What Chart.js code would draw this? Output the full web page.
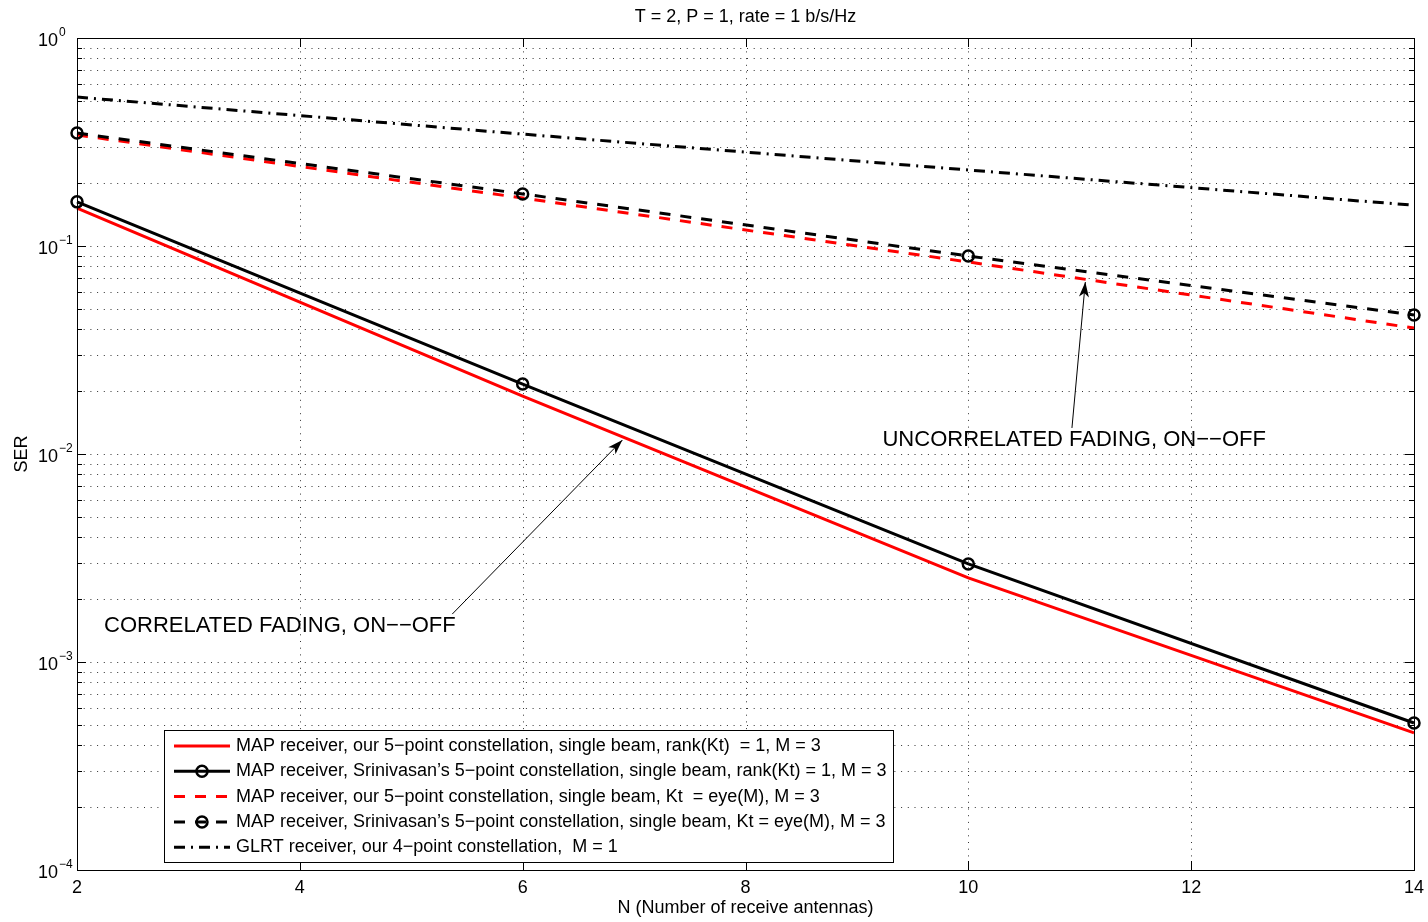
<!DOCTYPE html>
<html lang="en">
<head>
<meta charset="UTF-8">
<title>SER vs number of receive antennas</title>
<script src="https://cdn.jsdelivr.net/npm/chart.js"></script>
<style>
  body { margin: 0; background: #fff; }
  canvas { display: block; }
</style>
</head>
<body>
<canvas id="serChart" width="1428" height="922"></canvas>
<script>
// number of receive antennas
const antennas = [2, 6, 10, 14];

// symbol error rates per receiver
const mapOursCorr    = [0.152, 0.0190, 0.00254, 0.000456];
const mapSriniCorr   = [0.163, 0.0217, 0.00296, 0.000509];
const mapOursUncorr  = [0.342, 0.170, 0.0838, 0.0403];
const mapSriniUncorr = [0.349, 0.178, 0.0895, 0.0466];
const glrtOurs       = [0.520, 0.345, 0.232, 0.157];

const seriesLabels = [
  'MAP receiver, our 5\u2212point constellation, single beam, rank(Kt)  = 1, M = 3',
  'MAP receiver, Srinivasan\u2019s 5\u2212point constellation, single beam, rank(Kt) = 1, M = 3',
  'MAP receiver, our 5\u2212point constellation, single beam, Kt  = eye(M), M = 3',
  'MAP receiver, Srinivasan\u2019s 5\u2212point constellation, single beam, Kt = eye(M), M = 3',
  'GLRT receiver, our 4\u2212point constellation,  M = 1'
];

const xTicks = [2, 4, 6, 8, 10, 12, 14];
const yExponents = [0, -1, -2, -3, -4];

const titleText = 'T = 2, P = 1, rate = 1 b/s/Hz';
const xTitle = 'N (Number of receive antennas)';
const yTitle = 'SER';

// callouts, positioned in data units
const callouts = [
  { text: 'UNCORRELATED FADING, ON\u2212\u2212OFF', align: 'center', at: [10.95, 0.01167], tail: [10.93, 0.01334], head: [11.05, 0.0671] },
  { text: 'CORRELATED FADING, ON\u2212\u2212OFF', align: 'left', at: [2.243, 0.00149], tail: [5.368, 0.00170], head: [6.895, 0.01167] }
];

const FONT = '"Liberation Sans", Arial, Helvetica, sans-serif';

function series(values) {
  return values.map((v, i) => ({ x: antennas[i], y: v }));
}

const circle = { pointRadius: 5.5, pointHoverRadius: 5.5, pointBorderWidth: 2.5,
  pointBackgroundColor: 'rgba(0,0,0,0)', pointBorderColor: '#000', pointStyle: 'circle' };

const datasets = [
  { label: seriesLabels[0], data: series(mapOursCorr), borderColor: '#ff0000', borderWidth: 3, pointRadius: 0, order: 5 },
  Object.assign({ label: seriesLabels[1], data: series(mapSriniCorr), borderColor: '#000', borderWidth: 3, order: 4 }, circle),
  { label: seriesLabels[2], data: series(mapOursUncorr), borderColor: '#ff0000', borderWidth: 3, borderDash: [11, 10], pointRadius: 0, order: 3 },
  Object.assign({ label: seriesLabels[3], data: series(mapSriniUncorr), borderColor: '#000', borderWidth: 3, borderDash: [11, 10], order: 2 }, circle),
  { label: seriesLabels[4], data: series(glrtOurs), borderColor: '#000', borderWidth: 3, borderDash: [11, 6, 2, 6], pointRadius: 0, order: 1 }
];

function gridValues() {
  const vals = [];
  for (let e = -4; e < 0; e++) {
    for (let m = 1; m <= 9; m++) {
      if (m === 1 && e === -4) continue;
      vals.push({ v: m * Math.pow(10, e), major: m === 1 });
    }
  }
  return vals;
}

function hline(ctx, x1, x2, y) { ctx.beginPath(); ctx.moveTo(x1, y); ctx.lineTo(x2, y); ctx.stroke(); }
function vline(ctx, x, y1, y2) { ctx.beginPath(); ctx.moveTo(x, y1); ctx.lineTo(x, y2); ctx.stroke(); }

function strokeSample(ctx, ds, x1, x2, y) {
  ctx.save();
  ctx.strokeStyle = ds.borderColor;
  ctx.lineWidth = ds.borderWidth;
  ctx.setLineDash(ds.borderDash || []);
  hline(ctx, x1, x2, y);
  ctx.restore();
  if (ds.pointRadius) {
    ctx.save();
    ctx.strokeStyle = ds.pointBorderColor;
    ctx.lineWidth = ds.pointBorderWidth;
    ctx.beginPath();
    ctx.arc((x1 + x2) / 2, y, ds.pointRadius, 0, Math.PI * 2);
    ctx.stroke();
    ctx.restore();
  }
}

// MATLAB-style frame: dotted grid, inward ticks, boxed axes, legend and callouts
const matlabFrame = {
  id: 'matlabFrame',
  beforeDatasetsDraw(chart) {
    const { ctx, chartArea: a, scales: { x, y } } = chart;
    ctx.save();
    ctx.strokeStyle = '#333';
    ctx.lineWidth = 1;
    ctx.setLineDash([1, 5.7]);
    xTicks.slice(1, -1).forEach(t => {
      const px = Math.round(x.getPixelForValue(t)) + 0.5;
      vline(ctx, px, a.top, a.bottom);
    });
    gridValues().forEach(g => {
      const py = Math.round(y.getPixelForValue(g.v)) + 0.5;
      hline(ctx, a.left, a.right, py);
    });
    ctx.restore();
  },
  afterDatasetsDraw(chart) {
    const { ctx, chartArea: a, scales: { x, y } } = chart;
    ctx.save();

    // tick marks
    ctx.strokeStyle = '#000';
    ctx.lineWidth = 1;
    xTicks.forEach(t => {
      const px = Math.round(x.getPixelForValue(t)) + 0.5;
      vline(ctx, px, a.bottom, a.bottom - 9);
      vline(ctx, px, a.top, a.top + 9);
    });
    gridValues().forEach(g => {
      const py = Math.round(y.getPixelForValue(g.v)) + 0.5;
      const len = g.major ? 9 : 5;
      hline(ctx, a.left, a.left + len, py);
      hline(ctx, a.right, a.right - len, py);
    });

    // axes box
    ctx.strokeRect(Math.round(a.left) + 0.5, Math.round(a.top) + 0.5,
      Math.round(a.right - a.left), Math.round(a.bottom - a.top));

    // tick labels
    ctx.fillStyle = '#000';
    ctx.font = '18px ' + FONT;
    ctx.textAlign = 'center';
    ctx.textBaseline = 'alphabetic';
    xTicks.forEach(t => ctx.fillText(String(t), x.getPixelForValue(t), a.bottom + 23));
    yExponents.forEach(e => {
      const py = y.getPixelForValue(Math.pow(10, e));
      ctx.font = '18px ' + FONT;
      ctx.textAlign = 'right';
      ctx.fillText('10', a.left - 19, py + 8);
      ctx.font = '12px ' + FONT;
      ctx.textAlign = 'left';
      ctx.fillText(e < 0 ? '\u2212' + (-e) : String(e), a.left - 18, py - 2.5);
    });

    // titles
    ctx.font = '18px ' + FONT;
    ctx.textAlign = 'center';
    ctx.textBaseline = 'middle';
    ctx.fillText(titleText, (a.left + a.right) / 2, 17);
    ctx.fillText(xTitle, (a.left + a.right) / 2, 908);
    ctx.save();
    ctx.translate(22, (a.top + a.bottom) / 2);
    ctx.rotate(-Math.PI / 2);
    ctx.fillText(yTitle, 0, 0);
    ctx.restore();

    // callouts with arrows
    callouts.forEach(c => {
      const hx = x.getPixelForValue(c.head[0]), hy = y.getPixelForValue(c.head[1]);
      const tx = x.getPixelForValue(c.tail[0]), ty = y.getPixelForValue(c.tail[1]);
      const ang = Math.atan2(hy - ty, hx - tx);
      ctx.strokeStyle = '#000';
      ctx.lineWidth = 1;
      ctx.beginPath();
      ctx.moveTo(tx, ty);
      ctx.lineTo(hx, hy);
      ctx.stroke();
      ctx.save();
      ctx.translate(hx, hy);
      ctx.rotate(ang);
      ctx.beginPath();
      ctx.moveTo(0, 0);
      ctx.lineTo(-15, -5);
      ctx.lineTo(-11, 0);
      ctx.lineTo(-15, 5);
      ctx.closePath();
      ctx.fill();
      ctx.restore();
      ctx.font = '22px ' + FONT;
      ctx.textAlign = c.align;
      ctx.textBaseline = 'middle';
      ctx.fillText(c.text, x.getPixelForValue(c.at[0]), y.getPixelForValue(c.at[1]));
    });

    // legend
    const box = { left: 164.5, top: 730.5, width: 729, height: 132 };
    ctx.fillStyle = '#fff';
    ctx.fillRect(box.left, box.top, box.width, box.height);
    ctx.strokeStyle = '#000';
    ctx.lineWidth = 1;
    ctx.strokeRect(box.left, box.top, box.width, box.height);
    ctx.fillStyle = '#000';
    ctx.font = '18px ' + FONT;
    ctx.textAlign = 'left';
    ctx.textBaseline = 'middle';
    chart.data.datasets.forEach((ds, i) => {
      const rowY = 746 + i * 25.3;
      strokeSample(ctx, ds, 174, 230, rowY);
      ctx.fillText(ds.label, 236, rowY);
    });

    ctx.restore();
  }
};

new Chart(document.getElementById('serChart'), {
  type: 'line',
  data: { datasets },
  options: {
    responsive: false,
    animation: false,
    layout: { padding: { left: 77, right: 14, top: 38, bottom: 52 } },
    elements: { line: { tension: 0, borderCapStyle: 'butt', borderJoinStyle: 'miter' } },
    datasets: { line: { clip: false } },
    scales: {
      x: { type: 'linear', min: 2, max: 14, display: false },
      y: { type: 'logarithmic', min: 1e-4, max: 1, display: false }
    },
    plugins: {
      legend: { display: false },
      tooltip: { enabled: false }
    }
  },
  plugins: [matlabFrame]
});
</script>
</body>
</html>
